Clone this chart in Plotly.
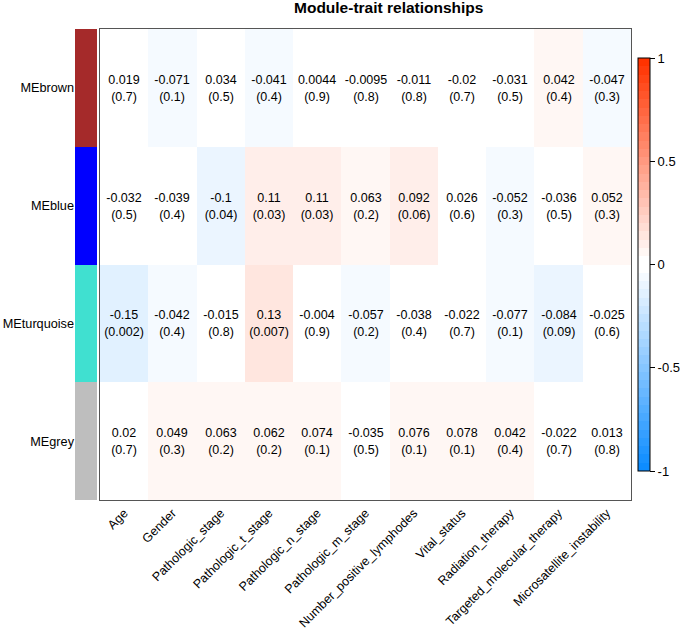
import plotly.graph_objects as go

modules = ["MEbrown", "MEblue", "MEturquoise", "MEgrey"]
module_colors = ["#A52A2A", "#0000FF", "#40E0D0", "#BEBEBE"]
traits = ["Age", "Gender", "Pathologic_stage", "Pathologic_t_stage", "Pathologic_n_stage",
          "Pathologic_m_stage", "Number_positive_lymphodes", "Vital_status",
          "Radiation_therapy", "Targeted_molecular_therapy", "Microsatellite_instability"]

cor_brown = [0.019, -0.071, 0.034, -0.041, 0.0044, -0.0095, -0.011, -0.02, -0.031, 0.042, -0.047]
p_brown = [0.7, 0.1, 0.5, 0.4, 0.9, 0.8, 0.8, 0.7, 0.5, 0.4, 0.3]
cor_blue = [-0.032, -0.039, -0.1, 0.11, 0.11, 0.063, 0.092, 0.026, -0.052, -0.036, 0.052]
p_blue = [0.5, 0.4, 0.04, 0.03, 0.03, 0.2, 0.06, 0.6, 0.3, 0.5, 0.3]
cor_turquoise = [-0.15, -0.042, -0.015, 0.13, -0.004, -0.057, -0.038, -0.022, -0.077, -0.084, -0.025]
p_turquoise = [0.002, 0.4, 0.8, 0.007, 0.9, 0.2, 0.4, 0.7, 0.1, 0.09, 0.6]
cor_grey = [0.02, 0.049, 0.063, 0.062, 0.074, -0.035, 0.076, 0.078, 0.042, -0.022, 0.013]
p_grey = [0.7, 0.3, 0.2, 0.2, 0.1, 0.5, 0.1, 0.1, 0.4, 0.7, 0.8]

cor = [cor_brown, cor_blue, cor_turquoise, cor_grey]
pv = [p_brown, p_blue, p_turquoise, p_grey]
text = [[f"{c:g}<br>({p:g})" for c, p in zip(cr, pr)] for cr, pr in zip(cor, pv)]

# WGCNA blueWhiteRed(50) as a stepped colorscale
n = 50
half = n // 2
blue_end = (0.05, 0.55, 1.0)
red_end = (1.0, 0.2, 0.0)
cols = []
for i in range(half):
    f = i / (half - 1)
    cols.append(tuple(b + (1 - b) * f for b in blue_end))
for i in range(half):
    f = 1 - i / (half - 1)
    cols.append(tuple(r + (1 - r) * f for r in red_end))
colorscale = []
for i, c in enumerate(cols):
    s = "rgb(%d,%d,%d)" % tuple(round(v * 255) for v in c)
    colorscale.append([i / n, s])
    colorscale.append([(i + 1) / n, s])

# module color strip: stepped scale for indices 0..k-1
k = len(module_colors)
strip_scale = []
for i, c in enumerate(module_colors):
    lo = 0 if i == 0 else (i - 0.5) / (k - 1)
    hi = 1 if i == k - 1 else (i + 0.5) / (k - 1)
    strip_scale.append([lo, c])
    strip_scale.append([hi, c])

W, H = 682, 633
def px(x):
    return x / W
def py(y):
    return 1 - y / H

FONT = "Liberation Sans, Arial"

fig = go.Figure()
fig.add_trace(go.Heatmap(
    z=cor, x=traits, y=modules, text=text, texttemplate="%{text}",
    textfont=dict(size=12.5, color="black", family=FONT),
    zmin=-1, zmax=1, colorscale=colorscale, xgap=0, ygap=0,
    colorbar=dict(
        lenmode="pixels", len=413, thickness=12, thicknessmode="pixels",
        x=px(638), xanchor="left", y=py(264.5), yanchor="middle",
        outlinewidth=1, outlinecolor="black", xpad=0, ypad=0,
        tickvals=[-1, -0.5, 0, 0.5, 1], ticktext=["-1", "-0.5", "0", "0.5", "1"],
        ticks="outside", ticklen=5, tickcolor="black",
        tickfont=dict(size=13, color="black", family=FONT),
    ),
    hoverinfo="skip",
))
fig.add_trace(go.Heatmap(
    z=[[i] for i in range(k)], x=[0], y=modules, xaxis="x2", yaxis="y2",
    zmin=0, zmax=k - 1, showscale=False, hoverinfo="skip",
    colorscale=strip_scale,
))

fig.update_layout(
    width=W, height=H, margin=dict(l=0, r=0, t=0, b=0, autoexpand=False),
    paper_bgcolor="white", plot_bgcolor="white",
    font=dict(family=FONT, color="black"),
    xaxis=dict(domain=[px(100), px(631)], tickangle=-45, showline=True, mirror=True,
               linecolor="#555555", linewidth=1, ticks="", showgrid=False, zeroline=False,
               tickfont=dict(size=12.5, color="black"), anchor="y", automargin=False),
    yaxis=dict(domain=[py(500), py(29)], autorange="reversed", showline=True, mirror=True,
               linecolor="#555555", linewidth=1, showticklabels=False, ticks="",
               showgrid=False, zeroline=False, anchor="x", automargin=False),
    xaxis2=dict(domain=[px(75), px(97)], showticklabels=False, showgrid=False,
                zeroline=False, anchor="y2", automargin=False),
    yaxis2=dict(domain=[py(500), py(29)], matches="y", anchor="x2", showgrid=False,
                zeroline=False, ticks="", tickfont=dict(size=12.7, color="black"),
                automargin=False),
    annotations=[dict(text="<b>Module-trait relationships</b>", x=px(388), y=py(8),
                      xref="paper", yref="paper", showarrow=False,
                      xanchor="center", yanchor="middle",
                      font=dict(size=15.5, color="black"))],
)

fig.write_html(
    "out.html",
    config={"displayModeBar": False},
    post_script="document.body.style.margin='0';document.body.style.padding='0';",
)
